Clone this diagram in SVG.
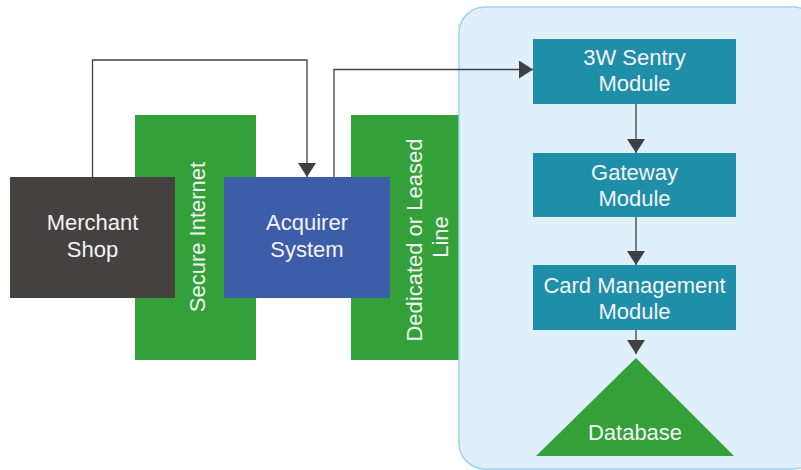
<svg xmlns="http://www.w3.org/2000/svg" width="801" height="470" viewBox="0 0 801 470">
  <defs>
    <style>
      .lbl { font-family: "Liberation Sans", Arial, sans-serif; font-size: 22px; fill: #f4f4f4; text-anchor: middle; }
      .conn { fill: none; stroke: #404040; stroke-width: 1.3; }
      .green { fill: #33a03a; }
      .mod { fill: #1f8ea8; }
    </style>
    <marker id="arr" viewBox="0 0 14 18" refX="14" refY="9" markerWidth="14" markerHeight="18" markerUnits="userSpaceOnUse" orient="auto">
      <path d="M0,0 L14,9 L0,18 Z" fill="#404040"/>
    </marker>
  </defs>
  <rect width="801" height="470" fill="#ffffff"/>

  <g id="secure-internet">
    <rect class="green" x="135" y="115" width="121" height="245"/>
    <text class="lbl" transform="translate(205,237) rotate(-90)">Secure Internet</text>
  </g>
  <g id="dedicated-line">
    <rect class="green" x="351" y="115" width="110" height="245"/>
    <text class="lbl" transform="translate(422,237) rotate(-90)">
      <tspan x="0" y="0">Dedicated or Leased</tspan>
      <tspan x="0" y="26">Line</tspan>
    </text>
  </g>

  <g id="container">
    <rect x="459" y="7" width="360" height="462" rx="26" ry="26" fill="#dff0fb" stroke="#9dd3ef" stroke-width="1.5"/>
  </g>

  <g id="merchant-shop">
    <rect x="10" y="177" width="165" height="121" fill="#454140"/>
    <text class="lbl"><tspan x="92.5" y="230">Merchant</tspan><tspan x="92.5" y="257">Shop</tspan></text>
  </g>
  <g id="acquirer-system">
    <rect x="224" y="177" width="166" height="121" fill="#3d5da8"/>
    <text class="lbl"><tspan x="307" y="230">Acquirer</tspan><tspan x="307" y="257">System</tspan></text>
  </g>

  <g id="sentry-module">
    <rect class="mod" x="533" y="39" width="203" height="65"/>
    <text class="lbl"><tspan x="634.5" y="65">3W Sentry</tspan><tspan x="634.5" y="91">Module</tspan></text>
  </g>
  <g id="gateway-module">
    <rect class="mod" x="533" y="153" width="203" height="64"/>
    <text class="lbl"><tspan x="634.5" y="180">Gateway</tspan><tspan x="634.5" y="206">Module</tspan></text>
  </g>
  <g id="card-management-module">
    <rect class="mod" x="533" y="265" width="203" height="65"/>
    <text class="lbl"><tspan x="634.5" y="293">Card Management</tspan><tspan x="634.5" y="319">Module</tspan></text>
  </g>
  <g id="database">
    <polygon points="636,358 734,456 536,456" fill="#33a03a"/>
    <text class="lbl" x="635" y="440">Database</text>
  </g>

  <g id="connectors">
    <path class="conn" d="M92.5,177 V60 H307 V177" marker-end="url(#arr)"/>
    <path class="conn" d="M334,177 V69.5 H533" marker-end="url(#arr)"/>
    <path class="conn" d="M636,104 V153" marker-end="url(#arr)"/>
    <path class="conn" d="M636,217 V265" marker-end="url(#arr)"/>
    <path class="conn" d="M636,330 V354" marker-end="url(#arr)"/>
  </g>
</svg>
